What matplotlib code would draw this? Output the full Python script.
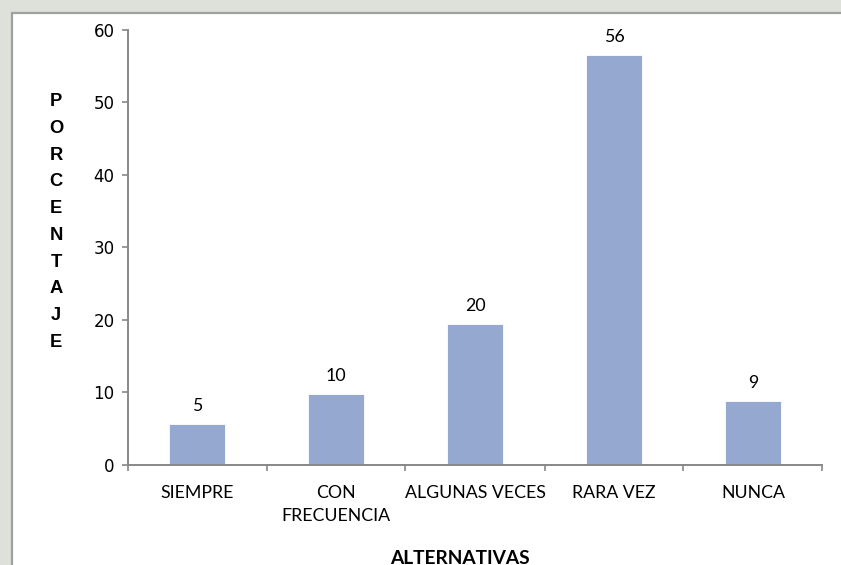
import matplotlib
matplotlib.use("Agg")
import matplotlib.pyplot as plt
from matplotlib.patches import Rectangle

categories = ["SIEMPRE", "CON\nFRECUENCIA", "ALGUNAS VECES", "RARA VEZ", "NUNCA"]
values = [5.6, 9.7, 19.4, 56.5, 8.8]
labels = ["5", "10", "20", "56", "9"]
yticks = [0, 10, 20, 30, 40, 50, 60]
ylabel = "PORCENTAJE"
xlabel = "ALTERNATIVAS"

fig = plt.figure(figsize=(8.41, 5.65), dpi=100)
fig.patch.set_facecolor("#dde1da")
# white chart area with grey border
fig.patches.append(Rectangle((12/841, -0.01), 1.0, (565-12.5)/565 + 0.01, transform=fig.transFigure,
                             facecolor="white", edgecolor="#a0a0a0", linewidth=1.6, zorder=-5))

ax = fig.add_axes([127.5/841, (565-464.5)/565, (822.5-127.5)/841, (464.5-30)/565])
ax.set_facecolor("none")
x = list(range(len(categories)))
bars = ax.bar(x, values, width=0.4, color="#95a9d0", edgecolor="white", linewidth=0.6, zorder=2)
for xi, v, lab in zip(x, values, labels):
    ax.annotate(lab, (xi, v), xytext=(0, 9.4), textcoords="offset points",
                ha="center", va="baseline", fontsize=12.8, family="Lato", color="#000000")

ax.set_xlim(-0.5, len(categories) - 0.5)
ax.set_ylim(0, 60)
ax.set_yticks(yticks)
ax.set_yticklabels([str(t) for t in yticks], fontsize=12, family="DejaVu Sans")
ax.set_xticks([i - 0.5 for i in range(len(categories) + 1)])
ax.set_xticklabels([])
ax.set_xticks(x, minor=True)
ax.set_xticklabels(categories, minor=True, fontsize=12.8, family="Lato", linespacing=1.5)
ax.tick_params(axis="x", which="minor", length=0, pad=15)
ax.tick_params(axis="x", which="major", length=4.3, color="#888888", width=1.2)
ax.tick_params(axis="y", length=4.3, color="#888888", width=1.2, pad=5)
for side in ["top", "right"]:
    ax.spines[side].set_visible(False)
for side in ["left", "bottom"]:
    ax.spines[side].set_color("#888888")
    ax.spines[side].set_linewidth(1.4)

fig.text(56/841, 1 - 222/565, "\n".join(ylabel), ha="center", va="center",
         fontsize=13.2, fontweight="bold", family="Liberation Sans", linespacing=1.75)
fig.text(460/841, 1 - 558/565, xlabel, ha="center", va="center",
         fontsize=13.8, fontweight="bold", family="Lato")

fig.savefig("out.png", dpi=100, facecolor=fig.get_facecolor())
